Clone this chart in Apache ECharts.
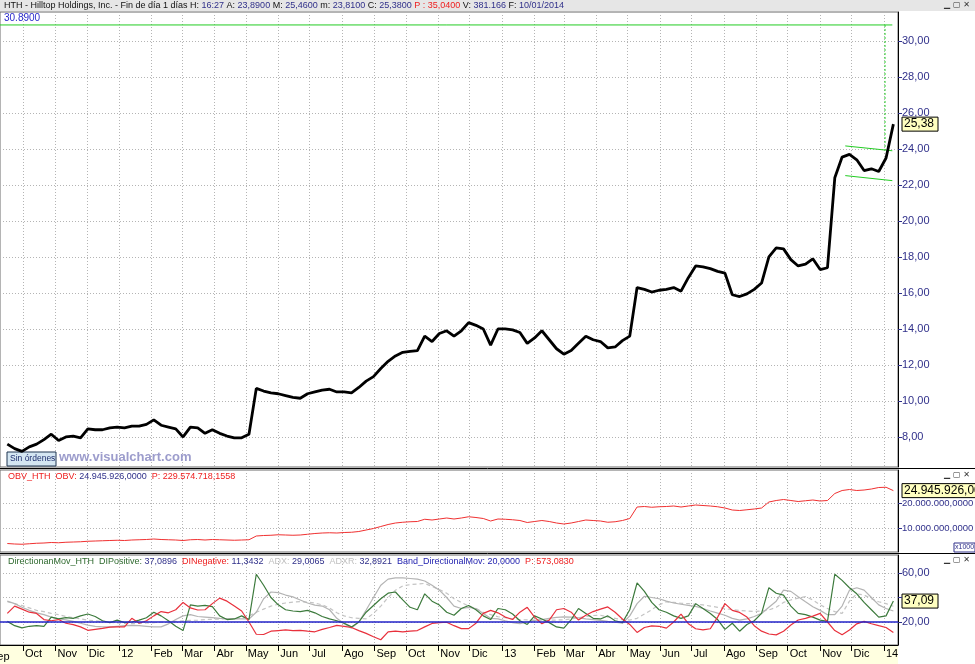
<!DOCTYPE html>
<html>
<head>
<meta charset="utf-8">
<script src="https://cdn.jsdelivr.net/npm/echarts@6.0.0/dist/echarts.min.js"></script>
<style>
  html, body { margin: 0; padding: 0; background: #fff; }
  #main { width: 975px; height: 664px; }
</style>
</head>
<body>
<div id="main"></div>
<script>
// semanas (viernes) desde 16/09/2011 hasta 10/01/2014
const firstWeek = [2011, 8, 16];
const monthNames = ['', 'Feb', 'Mar', 'Abr', 'May', 'Jun', 'Jul', 'Ago', 'Sep', 'Oct', 'Nov', 'Dic'];

// cierre semanal HTH
const priceClose = [
  7.6, 7.35, 7.2, 7.45, 7.6, 7.85, 8.15, 7.8, 8.0, 8.05,
  7.95, 8.45, 8.4, 8.4, 8.5, 8.55, 8.5, 8.6, 8.6, 8.7,
  8.95, 8.65, 8.55, 8.45, 8.0, 8.55, 8.5, 8.2, 8.4, 8.2,
  8.05, 7.95, 7.95, 8.15, 10.7, 10.55, 10.45, 10.4, 10.3, 10.2,
  10.15, 10.4, 10.5, 10.6, 10.65, 10.5, 10.5, 10.45, 10.75, 11.1,
  11.35, 11.8, 12.2, 12.5, 12.7, 12.75, 12.8, 13.6, 13.3, 13.75,
  13.9, 13.6, 13.9, 14.35, 14.2, 14.0, 13.1, 14.0, 14.0, 13.95,
  13.8, 13.2, 13.5, 13.9, 13.4, 12.9, 12.6, 12.8, 13.2, 13.6,
  13.4, 13.3, 12.95, 13.0, 13.35, 13.6, 16.3, 16.2, 16.05, 16.15,
  16.2, 16.3, 16.1, 16.85, 17.5, 17.45, 17.35, 17.2, 17.1, 15.9,
  15.8, 15.95, 16.2, 16.55, 18.0, 18.5, 18.45, 17.85, 17.5, 17.6,
  17.9, 17.3, 17.4, 22.4, 23.55, 23.7, 23.4, 22.8, 22.9, 22.75,
  23.5, 25.38
];

// OBV en millones
const obv = [
  3.8, 3.6, 3.5, 3.7, 3.9, 4.0, 4.2, 4.1, 4.3, 4.4,
  4.5, 4.7, 4.8, 4.9, 5.0, 5.1, 5.0, 5.2, 5.3, 5.4,
  5.6, 5.4, 5.3, 5.2, 5.0, 5.3, 5.4, 5.2, 5.4, 5.3,
  5.2, 5.1, 5.2, 5.3, 6.8, 7.0, 7.1, 7.3, 7.2, 7.1,
  7.2, 7.5, 7.8, 8.0, 8.1, 8.0, 8.2, 8.3, 8.6, 9.2,
  9.8, 10.6, 11.4, 12.0, 12.3, 12.5, 12.6, 13.5, 13.2, 13.6,
  14.0, 13.6, 14.0, 14.5, 14.2, 13.8, 12.8, 13.6, 13.5, 13.3,
  13.0, 12.2, 12.6, 13.0, 12.6, 12.0, 11.6, 12.0, 12.6, 13.2,
  13.0, 12.8, 12.3, 12.5, 13.0, 13.8, 18.4, 18.6, 18.3, 18.5,
  18.6, 18.8, 18.4, 18.8, 19.2, 19.0, 18.8, 18.5, 18.0, 17.2,
  17.0, 17.3, 17.6, 18.0, 20.4, 21.0, 21.4, 21.0, 20.6, 20.9,
  21.2, 20.8, 21.0, 23.8, 25.0, 25.4, 25.0, 25.2, 25.6, 26.2,
  26.3, 24.945926
];

const diPlus = [
  20.5, 17, 15.2, 16.5, 17, 16.5, 24, 22.5, 23.5, 23,
  25, 26.5, 24.5, 21, 19.5, 21.5, 19.5, 20, 21.5, 23.5,
  28, 25, 21, 16.5, 13, 34, 33, 33.5, 32.5, 25,
  22, 22.5, 25, 22, 59, 50, 40, 34, 30, 29,
  28.5, 29.5, 27.5, 24.5, 22.5, 21, 19, 16, 20, 28,
  33.5, 39, 43.5, 44.5, 38, 32, 30, 43, 37, 33.8,
  28, 25.5, 31, 33.5, 30, 25, 22, 31, 30, 26.5,
  21, 18, 25, 22.5, 19.5, 16, 15, 22, 31, 27,
  23, 22.5, 25, 21, 19.5, 30, 52, 45, 36, 30,
  28, 25, 23, 25, 35, 31, 27, 22, 14, 19,
  12.5, 18, 21, 27, 48, 43.5, 42, 33, 27, 26,
  24, 21.5, 20.5, 59, 54, 48, 43, 36, 30, 24,
  25, 37.09
];

const diMinus = [
  27, 33, 30.5, 28, 27, 22, 21, 22, 19, 17.8,
  16, 13.2, 14, 14.8, 15.8, 16, 16, 23, 19, 21,
  25, 28.5, 27.5, 30, 36, 31.5, 29.8, 30, 35, 39.5,
  37, 33, 29, 20, 10, 9.8, 12.5, 13, 13.5, 13,
  13.2, 12.5, 12, 14, 15.5, 17.3, 16.5, 15.5, 13, 10.7,
  8, 5.5, 12, 12.5, 12, 12.5, 13, 16, 18.8, 19.5,
  19.8, 17, 14.6, 14.6, 19, 27, 29.5, 27.5, 24, 22,
  28, 32, 24, 18.6, 21.5, 30, 31, 28, 21.6, 25.5,
  28.5, 30.5, 32.3, 28, 22.5, 18, 11.5, 15.5, 16.8, 16.5,
  15, 20, 26.5, 18.6, 14.5, 13.5, 14.5, 24, 35, 29.5,
  27.8, 24, 17, 12.5, 10.2, 9.5, 12.5, 17.5, 21.6, 23,
  24.8, 27, 20, 13, 9.6, 13.5, 18.5, 20.5, 18.6, 17,
  15.5, 11.34
];

const adx = [
  37, 35, 32, 29.5, 27.5, 26, 24, 22.5, 21.8, 20.5,
  19, 17.5, 16.5, 16, 16, 16.5, 17, 17.3, 17, 16.5,
  16, 16, 18.5, 22, 25, 26, 24.5, 24, 23.5, 23,
  22.8, 22.5, 22.5, 22.5, 28, 39, 44.5, 44, 42, 40.5,
  38, 35.5, 33.8, 33, 30, 23, 18.5, 15, 20, 29.8,
  40, 50, 55, 56, 56, 55.5, 55, 53.5, 50, 46,
  40, 33, 31, 32, 31, 27, 23, 22.6, 21, 19.5,
  18.7, 20, 21.3, 22, 23, 23.8, 24.2, 24, 23.3, 22.5,
  22, 21.4, 20.5, 19.8, 19, 25, 35, 41, 40, 39,
  37, 35.5, 34.5, 33.5, 32.8, 31, 29, 27.2, 25.5, 23,
  21.5, 22.5, 24.5, 27, 32, 37, 46, 45, 40.7, 36.5,
  32.5, 29.5, 26, 26, 33, 46, 48, 46, 40, 34,
  31, 29.01
];

const adxr = [
  36.5, 35, 33.5, 31.5, 29.5, 28.5, 27, 26, 24.5, 23.5,
  22.5, 21.5, 21, 20.3, 19.8, 19.3, 19, 18.7, 18.8, 19.2,
  19.5, 19.8, 20, 20.5, 21, 21.3, 21.6, 22, 22.2, 22.4,
  22.5, 22.6, 23, 25, 28, 30.5, 33, 34.5, 35.5, 36.3,
  36.6, 36.2, 35.5, 34, 31.5, 27.5, 25, 23.5, 23, 22.6,
  27, 33, 40, 46, 49.5, 50.5, 51, 51.5, 49, 46.5,
  43.5, 39, 36, 33, 31, 28, 26, 24.3, 23.5, 22.5,
  22, 21.7, 21.6, 21.6, 21.6, 21.6, 21.8, 22.5, 23.5, 24.5,
  25.3, 25.5, 24, 23, 22, 21.6, 23, 26.5, 30, 34,
  36.5, 36, 35.3, 35, 34.5, 34, 33, 32, 31, 30,
  29.5, 29, 28.5, 29, 29.8, 32, 36, 38, 39.5, 40.7,
  38, 34, 31, 28.5, 27, 37, 43, 42, 39, 36.5,
  35, 32.89
];

const priceTicks = [8, 10, 12, 14, 16, 18, 20, 22, 24, 26, 28, 30];
const obvTicks = [10, 20];
const dmiTicks = [20, 60];
const resistance = 30.89;
const bandLevel = 20;
// canal verde de la consolidación
const channelUp = [[2013, 10, 25, 24.17], [2014, 0, 9, 23.9]];
const channelDown = [[2013, 10, 25, 22.52], [2014, 0, 9, 22.24]];
const breakDay = [2014, 0, 2];
const breakLow = 23.95;

const weeks = priceClose.map((_, i) => Date.UTC(firstWeek[0], firstWeek[1], firstWeek[2] + 7 * i));
const monthTicks = [];
for (let m = 8; m <= 36; m++) monthTicks.push(Date.UTC(2011, m, 1));
const xMin = Date.UTC(2011, 8, 9);
const xMax = Date.UTC(2014, 0, 14, 10);

const pair = arr => weeks.map((d, i) => [d, arr[i]]);
const fmt2 = v => v.toFixed(2).replace('.', ',');
const fmtObv = v => String(Math.round(v * 1e6)).replace(/\B(?=(\d{3})+(?!\d))/g, '.') + ',0000';
const monthLabel = v => {
  const d = new Date(v);
  const m = d.getUTCMonth();
  return m === 0 ? String(d.getUTCFullYear()).slice(2) : monthNames[m];
};

const FONT = 'Liberation Sans';
const AXIS_BLUE = '#30308a';
const GREEN = '#22cc22';
const GRID_LINE = { show: true, lineStyle: { color: '#b4b4b4', type: [1, 2], width: 1 } };

const grids = [
  { left: 0, right: 77, top: 12, height: 455 },
  { left: 0, right: 77, top: 470, height: 82 },
  { left: 0, right: 77, top: 555, height: 90 }
];
grids.forEach(g => {
  g.show = true; g.borderColor = '#6a6a6a'; g.borderWidth = 1;
  g.outerBoundsMode = 'none'; g.containLabel = false;
});

// eje de fechas como valor numérico (marca de tiempo), ticks al inicio de cada mes
const xAxes = [0, 1, 2].map(i => ({
  type: 'value',
  gridIndex: i,
  min: xMin,
  max: xMax,
  axisLine: { show: i === 2, onZero: false, lineStyle: { color: '#000' } },
  axisTick: { show: i === 2, customValues: monthTicks, length: 6, lineStyle: { color: '#000' } },
  axisLabel: {
    show: i === 2, customValues: monthTicks, formatter: monthLabel,
    align: 'left', padding: [0, 0, 0, 2], margin: 3,
    color: '#000', fontSize: 11, fontFamily: FONT
  },
  splitLine: GRID_LINE
}));

const yBase = (idx, min, max, ticks, labelTicks, fmt, fs) => ({
  type: 'value',
  gridIndex: idx,
  position: 'right',
  min: min,
  max: max,
  axisLine: { show: true, lineStyle: { color: '#000' } },
  axisTick: { show: true, customValues: ticks, length: 4, lineStyle: { color: AXIS_BLUE } },
  axisLabel: {
    customValues: labelTicks, formatter: fmt, margin: 4,
    color: AXIS_BLUE, fontSize: fs, fontFamily: FONT
  },
  splitLine: GRID_LINE
});

const yAxes = [
  yBase(0, 6.33, 31.61, priceTicks, priceTicks, fmt2, 11),
  yBase(1, 0.4, 33.2, obvTicks, obvTicks, fmtObv, 9.5),
  yBase(2, 1.22, 74.7, [20, 40, 60], dmiTicks, fmt2, 11)
];

const dayPt = (a) => Date.UTC(a[0], a[1], a[2]);
const segment = (name, pts, style) => ({
  name: name, type: 'line', xAxisIndex: 0, yAxisIndex: 0,
  data: pts, showSymbol: false, silent: true, z: 3,
  lineStyle: Object.assign({ color: GREEN, width: 1, type: 'solid' }, style)
});

const option = {
  animation: false,
  backgroundColor: '#fff',
  grid: grids,
  xAxis: xAxes,
  yAxis: yAxes,
  series: [
    segment('Resistencia', [[xMin, resistance], [dayPt(breakDay) + 7 * 86400000, resistance]], {}),
    segment('Rotura', [[dayPt(breakDay), resistance], [dayPt(breakDay), breakLow]], { type: [2, 2] }),
    segment('CanalSup', channelUp.map(p => [dayPt(p), p[3]]), {}),
    segment('CanalInf', channelDown.map(p => [dayPt(p), p[3]]), {}),
    {
      name: 'HTH', type: 'line', xAxisIndex: 0, yAxisIndex: 0,
      data: pair(priceClose), showSymbol: false, z: 4,
      lineStyle: { color: '#000', width: 2.8 }
    },
    {
      name: 'OBV', type: 'line', xAxisIndex: 1, yAxisIndex: 1,
      data: pair(obv), showSymbol: false,
      lineStyle: { color: '#f03030', width: 1 }
    },
    {
      name: 'ADXR', type: 'line', xAxisIndex: 2, yAxisIndex: 2,
      data: pair(adxr), showSymbol: false,
      lineStyle: { color: '#c4c4c4', width: 1.2, type: [4, 3] }
    },
    {
      name: 'ADX', type: 'line', xAxisIndex: 2, yAxisIndex: 2,
      data: pair(adx), showSymbol: false,
      lineStyle: { color: '#b4b4b4', width: 1.2 }
    },
    {
      name: 'DIPositive', type: 'line', xAxisIndex: 2, yAxisIndex: 2,
      data: pair(diPlus), showSymbol: false,
      lineStyle: { color: '#3c7a3c', width: 1.2 }
    },
    {
      name: 'DINegative', type: 'line', xAxisIndex: 2, yAxisIndex: 2,
      data: pair(diMinus), showSymbol: false,
      lineStyle: { color: '#e8303c', width: 1.2 },
      markLine: {
        symbol: ['none', 'none'], silent: true, label: { show: false },
        data: [{ yAxis: bandLevel }],
        lineStyle: { color: '#2323c8', width: 1.5, type: 'solid' }
      }
    }
  ]
};

const chart = echarts.init(document.getElementById('main'));
chart.setOption(option);

// cabeceras, marcas y etiquetas de último valor
const lastIdx = weeks.length - 1;
const py = chart.convertToPixel({ yAxisIndex: 0 }, priceClose[lastIdx]);
const oy = chart.convertToPixel({ yAxisIndex: 1 }, obv[lastIdx]);
const dy = chart.convertToPixel({ yAxisIndex: 2 }, diPlus[lastIdx]);

const tag = (y, txt, w) => ({
  type: 'group', x: 902, y: y - 7,
  children: [
    { type: 'rect', shape: { x: 0, y: 0, width: w, height: 14 }, style: { fill: '#ffffc0', stroke: '#000', lineWidth: 1 } },
    { type: 'text', x: 2, y: 1, style: { text: txt, font: '12px ' + FONT, fill: '#000' } }
  ]
});
const winButtons = (y) => ({
  type: 'text', x: 944, y: y, style: { text: '▁ ▢ ✕', font: 'bold 8px DejaVu Sans', fill: '#333' }
});
const hline = (y) => ({ type: 'line', shape: { x1: 0, y1: y, x2: 975, y2: y }, style: { stroke: '#000', lineWidth: 1 } });

const richBase = { font: '9px ' + FONT };
chart.setOption({
  graphic: [
    { type: 'rect', z: -10, shape: { x: 0, y: 0, width: 975, height: 11 }, style: { fill: '#e6e6e6' } },
    {
      type: 'text', x: 4, y: 1,
      style: {
        text: '{k|HTH - Hilltop Holdings, Inc. - Fin de día 1 días H: }{v|16:27}{k| A: }{v|23,8900}{k| M: }{v|25,4600}{k| m: }{v|23,8100}{k| C: }{v|25,3800}{r| P : 35,0400}{k| V: }{v|381.166}{k| F: }{v|10/01/2014}',
        rich: {
          k: Object.assign({ fill: '#111' }, richBase),
          v: Object.assign({ fill: '#30308a' }, richBase),
          r: Object.assign({ fill: '#ee2020' }, richBase)
        }
      }
    },
    winButtons(1),
    { type: 'text', x: 4, y: 13, style: { text: '30.8900', font: '10px ' + FONT, fill: '#2a2acc' } },
    {
      type: 'group', x: 7, y: 452,
      children: [
        { type: 'rect', shape: { x: 0, y: 0, width: 49, height: 14 }, style: { fill: '#d4e6f2', stroke: '#1f3550', lineWidth: 1 } },
        { type: 'text', x: 3, y: 2.5, style: { text: 'Sin órdenes', font: '8.5px ' + FONT, fill: '#1c2c6c' } }
      ]
    },
    { type: 'text', x: 59, y: 451, style: { text: 'www.visualchart.com', font: 'bold 13px ' + FONT, fill: '#9c9ccc' } },
    hline(468.5), hline(553.5),
    winButtons(471), winButtons(556),
    {
      type: 'text', x: 8, y: 472,
      style: {
        text: '{r|OBV_HTH  OBV: }{v|24.945.926,0000}{r|  P: 229.574.718,1558}',
        rich: {
          v: Object.assign({ fill: '#30308a' }, richBase),
          r: Object.assign({ fill: '#ee2020' }, richBase)
        }
      }
    },
    {
      type: 'text', x: 8, y: 557,
      style: {
        text: '{g|DirectionanMov_HTH  DIPositive: }{v|37,0896}{r|  DINegative: }{v|11,3432}{l|  ADX: }{v|29,0065}{l|  ADXR: }{v|32,8921}{b|  Band_DirectionalMov: 20,0000}{r|  P: 573,0830}',
        rich: {
          g: Object.assign({ fill: '#2f6a2f' }, richBase),
          v: Object.assign({ fill: '#30308a' }, richBase),
          r: Object.assign({ fill: '#ee2020' }, richBase),
          l: Object.assign({ fill: '#c0c0c0' }, richBase),
          b: Object.assign({ fill: '#2323b0' }, richBase)
        }
      }
    },
    {
      type: 'group', x: 954, y: 543,
      children: [
        { type: 'rect', shape: { x: 0, y: 0, width: 21, height: 9 }, style: { fill: '#fff', stroke: '#30308a', lineWidth: 1 } },
        { type: 'text', x: 1, y: 1, style: { text: 'x1000', font: '7px ' + FONT, fill: '#30308a' } }
      ]
    },
    { type: 'rect', z: -10, shape: { x: 0, y: 645, width: 898, height: 19 }, style: { fill: '#ffffe0' } },
    { type: 'text', x: -10, y: 651, style: { text: 'Sep', font: '11px ' + FONT, fill: '#000' } },
    tag(py, fmt2(priceClose[lastIdx]), 36),
    tag(oy, fmtObv(obv[lastIdx]), 80),
    tag(dy, fmt2(diPlus[lastIdx]), 36)
  ]
});
</script>
</body>
</html>
